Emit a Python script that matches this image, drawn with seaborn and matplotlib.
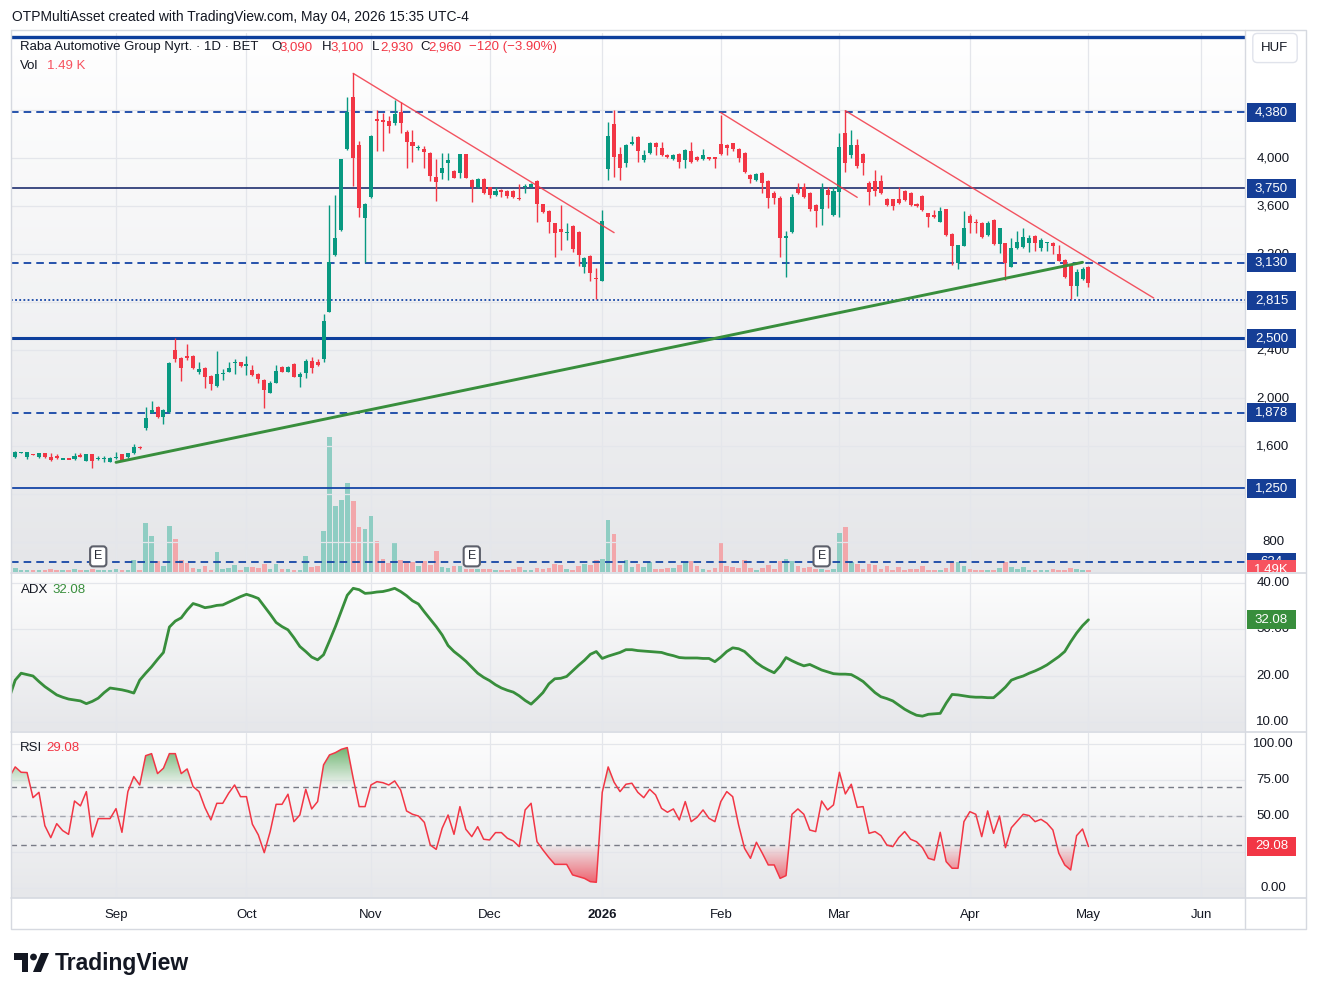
import numpy as np
import pandas as pd
import matplotlib
matplotlib.use("Agg")
import matplotlib.pyplot as plt
import seaborn as sns
from matplotlib.path import Path
from matplotlib.patches import Rectangle, Polygon, Circle
from matplotlib.lines import Line2D
from matplotlib.colors import to_rgb
from matplotlib.transforms import blended_transform_factory as blend

sns.set_theme(style="white")
plt.rcParams["font.family"] = ["Liberation Sans", "DejaVu Sans"]

# ------------------------------------------------------------------ data
first_session = "2025-08-05"
calendar_end = "2026-06-30"
bse_holidays = ["2025-08-20", "2025-10-23", "2025-10-24", "2025-12-24", "2025-12-25",
                "2025-12-26", "2025-12-31", "2026-01-01", "2026-01-02", "2026-04-03",
                "2026-04-06", "2026-05-01", "2026-05-25"]

open_ = [1541,
         1508, 1550, 1513, 1535, 1513, 1541, 1513, 1522, 1493, 1495,
         1494, 1522, 1480, 1536, 1500, 1497, 1472, 1500, 1533, 1513,
         1541, 1597, 1750, 1880, 1930, 1846, 1888, 2401, 2332, 2352,
         2352, 2222, 2249, 2185, 2102, 2205, 2222, 2297, 2299, 2276,
         2235, 2202, 2152, 2047, 2130, 2257, 2222, 2285, 2174, 2208,
         2310, 2305, 2327, 2721, 3193, 3401, 4075, 4511, 4108, 3503,
         3678, 4325, 4316, 4308, 4289, 4386, 4219, 4136, 4085, 4072,
         4039, 3839, 3878, 3956, 3892, 3878, 4031, 3817, 3761, 3825,
         3756, 3692, 3734, 3725, 3725, 3670, 3760, 3761, 3808, 3614,
         3559, 3456, 3409, 3376, 3434, 3387, 3096, 3184, 2998, 2979,
         3906, 4283, 4031, 3956, 4114, 4172, 3983, 4039, 4122, 4081,
         4025, 3989, 4033, 3983, 4061, 4011, 3989, 4008, 4008, 4117,
         4108, 4122, 4075, 4045, 3859, 3817, 3872, 3809, 3711, 3670,
         3340, 3387, 3742, 3756, 3711, 3609, 3573, 3734, 3525, 3720,
         4211, 4025, 4108, 4031, 3789, 3809, 3809, 3656, 3656, 3659,
         3725, 3711, 3617, 3684, 3539, 3525, 3470, 3576, 3367, 3123,
         3270, 3520, 3470, 3462, 3359, 3484, 3281, 3290, 3096, 3248,
         3262, 3295, 3351, 3248, 3297, 3290, 3201, 3151, 3109, 2934,
         2993, 3090]
high = [1545,
        1560, 1552, 1553, 1537, 1545, 1545, 1541, 1536, 1496, 1497,
        1541, 1541, 1540, 1540, 1516, 1516, 1508, 1550, 1537, 1545,
        1619, 1603, 1930, 1980, 1936, 1910, 2300, 2504, 2340, 2452,
        2360, 2300, 2260, 2195, 2393, 2240, 2299, 2330, 2305, 2353,
        2277, 2210, 2160, 2140, 2277, 2270, 2265, 2290, 2215, 2326,
        2345, 2330, 2699, 3609, 3692, 3995, 4511, 4705, 4140, 3625,
        4192, 4400, 4372, 4350, 4483, 4469, 4230, 4233, 4108, 4100,
        4050, 3992, 4039, 4039, 3900, 4035, 4035, 3825, 3831, 3830,
        3760, 3760, 3740, 3730, 3730, 3781, 3783, 3790, 3817, 3620,
        3565, 3460, 3609, 3456, 3440, 3395, 3179, 3190, 3082, 3567,
        4303, 4400, 4089, 4120, 4183, 4180, 4067, 4136, 4130, 4136,
        4035, 4035, 4040, 4075, 4136, 4020, 4072, 4012, 4012, 4358,
        4115, 4128, 4080, 4050, 3865, 3872, 3880, 3815, 3728, 3680,
        3392, 3700, 3789, 3789, 3720, 3615, 3789, 3760, 3761, 4211,
        4400, 4233, 4158, 4045, 3810, 3900, 3859, 3665, 3662, 3756,
        3733, 3720, 3622, 3690, 3545, 3567, 3595, 3580, 3372, 3280,
        3559, 3531, 3490, 3465, 3476, 3490, 3420, 3295, 3331, 3392,
        3420, 3360, 3360, 3331, 3304, 3298, 3276, 3160, 3115, 3073,
        3096, 3100]
low = [1505,
       1505, 1547, 1492, 1530, 1505, 1505, 1480, 1495, 1491, 1492,
       1490, 1512, 1476, 1416, 1489, 1466, 1468, 1495, 1476, 1505,
       1535, 1580, 1740, 1875, 1833, 1790, 1880, 2305, 2146, 2320,
       2240, 2205, 2088, 2066, 2095, 2150, 2215, 2205, 2260, 2195,
       2185, 2124, 1916, 2040, 2125, 2215, 2215, 2175, 2097, 2165,
       2210, 2270, 2305, 2715, 3185, 3395, 4070, 3767, 3512, 3131,
       3670, 4061, 4061, 4211, 4275, 4211, 3914, 3970, 4067, 3914,
       3811, 3645, 3822, 3817, 3830, 3831, 3830, 3636, 3750, 3700,
       3664, 3685, 3672, 3670, 3670, 3650, 3711, 3755, 3470, 3540,
       3373, 3179, 3234, 3317, 3220, 3104, 3040, 2979, 2826, 2975,
       3817, 3839, 3817, 3922, 4105, 3964, 3964, 4030, 4025, 4020,
       4000, 3985, 3914, 3914, 3960, 3975, 3980, 3985, 3914, 4025,
       4025, 4060, 3970, 3872, 3789, 3812, 3711, 3581, 3614, 3173,
       3007, 3380, 3700, 3670, 3560, 3423, 3442, 3581, 3515, 3512,
       3886, 4000, 3920, 3859, 3609, 3680, 3700, 3600, 3567, 3620,
       3640, 3600, 3595, 3559, 3428, 3500, 3465, 3355, 3109, 3073,
       3265, 3379, 3373, 3335, 3350, 3276, 3206, 2984, 3090, 3240,
       3255, 3221, 3229, 3229, 3229, 3201, 3140, 3005, 2824, 2851,
       2985, 2930]
close = [1508,
         1555, 1551, 1550, 1532, 1541, 1508, 1486, 1500, 1495, 1494,
         1522, 1516, 1536, 1478, 1503, 1500, 1505, 1513, 1480, 1541,
         1591, 1583, 1833, 1902, 1846, 1902, 2296, 2327, 2249, 2332,
         2249, 2241, 2174, 2119, 2202, 2210, 2249, 2300, 2269, 2279,
         2194, 2158, 2069, 2130, 2227, 2222, 2257, 2180, 2202, 2310,
         2249, 2277, 2643, 3131, 3331, 3992, 4386, 4003, 3587, 3614,
         4183, 4311, 4297, 4269, 4366, 4294, 4131, 4103, 4092, 4053,
         3853, 3803, 3920, 3983, 3836, 4031, 3836, 3756, 3825, 3706,
         3692, 3725, 3720, 3684, 3678, 3656, 3767, 3783, 3614, 3553,
         3470, 3373, 3381, 3381, 3240, 3193, 3165, 3040, 2990, 3476,
         4183, 4011, 3920, 4108, 4136, 4061, 4024, 4128, 4089, 4025,
         4006, 4025, 3970, 4067, 3970, 3983, 4025, 3989, 3989, 4033,
         4081, 4072, 4003, 3886, 3823, 3867, 3789, 3664, 3664, 3337,
         3345, 3678, 3711, 3678, 3573, 3559, 3739, 3692, 3725, 4089,
         3961, 4108, 3934, 3956, 3720, 3728, 3706, 3609, 3603, 3628,
         3651, 3609, 3600, 3567, 3512, 3506, 3559, 3359, 3270, 3276,
         3415, 3462, 3456, 3340, 3462, 3281, 3415, 3123, 3248, 3304,
         3345, 3337, 3295, 3318, 3300, 3270, 3145, 3012, 2934, 3054,
         3080, 2960]
volume_k = [1.5,
            2.6, 1.5, 1.5, 1.1, 1.5, 1.1, 2.1, 1.1, 1.1, 1.5,
            2.1, 1.5, 1.1, 2.1, 1.1, 1.5, 1.5, 2.1, 1.5, 1.5,
            7.9, 1.5, 31.7, 22.8, 6.8, 4.0, 29.6, 21.3, 7.5, 5.8,
            2.6, 2.1, 4.0, 1.5, 12.6, 2.1, 2.6, 4.7, 1.1, 3.2,
            3.2, 2.6, 5.3, 2.1, 5.3, 2.1, 2.1, 1.5, 1.5, 10.0,
            3.0, 3.6, 26.4, 86.7, 42.4, 46.2, 57.3, 45.8, 29.2, 27.7,
            36.2, 20.2, 8.5, 5.8, 19.0, 7.9, 6.2, 6.2, 3.6, 6.8,
            4.7, 13.8, 3.2, 2.6, 3.6, 3.6, 2.1, 2.1, 2.1, 2.1,
            2.1, 1.1, 1.5, 1.5, 2.1, 3.2, 1.5, 1.5, 2.6, 2.1,
            2.6, 5.1, 4.3, 2.1, 1.5, 4.0, 5.3, 4.7, 7.9, 8.5,
            33.4, 24.5, 4.7, 7.9, 3.2, 5.3, 3.2, 6.2, 2.1, 2.1,
            2.6, 2.6, 4.7, 6.2, 6.8, 4.0, 2.1, 1.5, 2.6, 19.0,
            4.0, 3.2, 2.6, 7.9, 2.6, 1.5, 2.6, 4.7, 2.1, 7.2,
            8.5, 6.8, 4.0, 2.6, 3.2, 2.1, 2.1, 1.5, 2.1, 25.3,
            29.2, 6.2, 5.1, 2.1, 5.1, 4.3, 2.1, 4.0, 1.1, 3.0,
            1.5, 2.1, 2.1, 3.6, 1.5, 1.1, 1.1, 2.6, 6.2, 6.2,
            4.0, 2.1, 1.5, 1.5, 1.5, 1.5, 2.6, 6.2, 3.2, 2.1,
            3.2, 1.5, 1.5, 1.1, 1.5, 2.1, 1.5, 1.5, 2.6, 2.1,
            1.5, 1.49]
adx = [15.2,
       19.0, 20.5, 20.2, 19.9, 18.7, 17.6, 16.7, 15.8, 15.3, 14.9,
       14.7, 14.5, 13.9, 14.4, 15.1, 16.3, 17.3, 17.1, 16.9, 16.6,
       16.2, 19.0, 20.5, 21.9, 23.5, 25.0, 30.5, 31.8, 32.5, 34.2,
       35.6, 35.2, 34.7, 34.9, 35.2, 35.3, 35.9, 36.5, 37.1, 37.6,
       37.2, 36.7, 35.0, 33.3, 31.5, 30.6, 29.9, 28.2, 26.3, 25.2,
       24.0, 23.4, 24.5, 27.5, 30.6, 34.0, 37.4, 38.9, 38.6, 37.8,
       37.9, 38.1, 38.2, 38.5, 38.9, 38.2, 37.3, 36.2, 35.5, 33.8,
       32.2, 30.6, 28.8, 26.5, 25.2, 24.2, 23.1, 21.8, 20.5, 19.6,
       18.9, 18.0, 17.3, 16.8, 16.4, 15.6, 14.6, 13.8, 15.0, 16.3,
       18.2, 19.3, 19.4, 19.8, 21.0, 22.2, 23.3, 24.6, 25.2, 23.7,
       24.2, 24.6, 25.0, 25.6, 25.6, 25.4, 25.3, 25.2, 25.1, 25.0,
       24.6, 24.3, 23.9, 23.8, 23.8, 23.8, 23.7, 23.7, 23.0, 24.0,
       25.2, 26.0, 25.8, 25.2, 24.0, 22.8, 21.9, 21.2, 20.6, 22.0,
       23.9, 23.2, 22.6, 22.1, 22.4, 21.8, 21.2, 20.8, 20.4, 20.3,
       20.3, 20.2, 19.5, 18.7, 17.5, 16.3, 15.4, 15.0, 14.5, 13.6,
       12.7, 12.0, 11.4, 11.2, 11.6, 11.7, 11.8, 14.0, 15.9, 15.8,
       15.6, 15.4, 15.3, 15.3, 15.2, 15.2, 16.3, 17.5, 19.0, 19.5,
       19.9, 20.5, 21.0, 21.6, 22.3, 23.2, 24.1, 25.2, 27.3, 29.2,
       30.8, 32.08]
rsi = [77.0,
       84.2, 80.5, 80.3, 62.9, 66.6, 43.5, 35.2, 44.9, 40.1, 37.5,
       60.6, 57.2, 67.1, 35.7, 48.4, 48.4, 48.4, 55.3, 38.9, 67.1,
       77.5, 71.7, 92.0, 93.4, 79.6, 83.3, 93.4, 93.4, 79.6, 82.8,
       70.6, 67.1, 56.0, 47.5, 59.0, 59.0, 66.0, 71.7, 63.6, 63.6,
       44.5, 37.1, 24.8, 39.4, 58.3, 58.3, 65.3, 46.3, 50.9, 68.7,
       55.1, 60.2, 85.6, 92.5, 94.1, 96.4, 97.6, 76.3, 56.7, 56.7,
       71.7, 74.0, 73.3, 71.7, 74.5, 68.2, 53.7, 51.4, 50.2, 45.8,
       30.1, 27.1, 41.7, 50.9, 37.5, 56.7, 41.0, 35.9, 42.8, 34.1,
       33.6, 38.7, 38.7, 34.8, 32.9, 29.0, 54.4, 59.0, 32.4, 26.7,
       21.4, 16.7, 16.7, 16.7, 9.4, 8.2, 7.0, 4.7, 4.3, 66.6,
       84.2, 73.6, 67.1, 72.2, 72.9, 66.6, 62.9, 68.7, 64.8, 55.5,
       52.8, 55.1, 47.5, 60.2, 46.3, 49.3, 54.4, 48.6, 46.3, 60.2,
       67.1, 63.6, 44.0, 27.8, 20.9, 32.0, 24.4, 16.3, 16.3, 7.0,
       8.9, 51.4, 55.1, 51.4, 40.5, 39.4, 60.6, 54.4, 57.9, 80.5,
       65.5, 72.2, 56.2, 56.7, 38.2, 39.4, 36.6, 30.1, 29.0, 35.2,
       39.4, 34.1, 32.4, 28.3, 20.9, 19.7, 38.9, 18.6, 14.0, 14.0,
       46.3, 53.2, 51.4, 35.9, 53.7, 38.2, 50.2, 28.3, 42.1, 46.8,
       51.4, 50.5, 46.3, 47.9, 45.2, 40.5, 24.4, 16.3, 12.8, 36.6,
       41.2, 29.08]

level_top = 5007
levels_dashed = [4380, 3130, 1878, 634]
level_resistance = 3750
level_support = 2500
level_dotted = 2815
level_low = 1250
label_levels = [4380, 3750, 3130, 2815, 2500, 1878, 1250, 634]
price_ticks = [800, 1200, 1600, 2000, 2400, 2800, 3200, 3600, 4000, 4400]
adx_ticks = [10, 20, 30, 40]
rsi_ticks = [0, 25, 50, 75, 100]
rsi_upper, rsi_mid, rsi_lower = 70, 50, 30

red_trendlines = [(("2025-10-29", 4705), ("2026-01-07", 3379)),
                  (("2026-02-02", 4378), ("2026-03-05", 3673)),
                  (("2026-03-03", 4394), ("2026-05-19", 2835))]
green_trendline = (("2025-09-01", 1467), ("2026-04-30", 3132))
earnings_dates = ["2025-08-27", "2025-11-26", "2026-02-25"]

title_text = "Raba Automotive Group Nyrt. · 1D · BET"
header_text = "OTPMultiAsset created with TradingView.com, May 04, 2026 15:35 UTC-4"

# ------------------------------------------------------------------ prep
sessions = pd.bdate_range(first_session, calendar_end).difference(pd.DatetimeIndex(bse_holidays))
n = len(close)
x = np.arange(n)
o, h, l, c = (np.asarray(a, float) for a in (open_, high, low, close))
vol = np.asarray(volume_k, float)
adx_a = np.asarray(adx, float)
rsi_a = np.asarray(rsi, float)


def idx(d):
    return sessions.get_loc(pd.Timestamp(d))


firsts = pd.Series(np.arange(len(sessions)), index=sessions)
firsts = firsts.groupby([sessions.year, sessions.month]).first()
month_pos, month_lab = [], []
for (yy, mm), pos in firsts.items():
    if (yy, mm) <= (2025, 8):
        continue
    month_pos.append(pos)
    month_lab.append(str(yy) if mm == 1 else pd.Timestamp(yy, mm, 1).strftime("%b"))

UP, DOWN = "#089981", "#f23645"
BLUE = "#1546a6"
TXT = "#131722"
GRID = "#e4e6eb"
SEP = "#d6d9e0"
FS = 9.5

W, H, DPI = 1317, 997, 100
fig = plt.figure(figsize=(W / DPI, H / DPI), dpi=DPI)
fig.patch.set_facecolor("white")


def px_axes(x0, y0, x1, y1):
    return fig.add_axes([x0 / W, 1 - y1 / H, (x1 - x0) / W, (y1 - y0) / H])


def ftext(xp, yp, s, **kw):
    kw.setdefault("fontsize", FS)
    kw.setdefault("va", "center")
    kw.setdefault("color", TXT)
    return fig.text(xp / W, 1 - yp / H, s, **kw)


def gradient_bg(ax, top="#ffffff", bottom="#e5e6e9"):
    t = np.linspace(0, 1, 256)[:, None, None]
    img = np.array(to_rgb(top))[None, None, :] * (1 - t) + np.array(to_rgb(bottom))[None, None, :] * t
    ax.imshow(img, extent=(0, 1, 0, 1), transform=ax.transAxes, aspect="auto",
              zorder=-10, interpolation="bilinear")


def clean(ax):
    for s in ax.spines.values():
        s.set_visible(False)


x_view = (0.29, 208.4)
price_view = (554, 5041)
adx_view = (7.98, 42.0)
rsi_view = (-6.6, 107.7)

# ------------------------------------------------------------------ main pane
ax_vol = px_axes(11, 33, 1245, 572)
gradient_bg(ax_vol)
vol_cols = np.where(c >= o, "#8fcdc3", "#f2a7ab")
ax_vol.bar(x, vol, width=0.78, color=vol_cols, linewidth=0, zorder=2)
ax_vol.set_ylim(0, 346)
ax_vol.set_xlim(*x_view)
ax_vol.set_yticks([])
ax_vol.set_xticks(month_pos)
ax_vol.tick_params(axis="x", labelbottom=False, length=0)
ax_vol.grid(axis="x", color=GRID, lw=0.9)
clean(ax_vol)

ax_p = ax_vol.twinx()
ax_p.patch.set_visible(False)
ax_p.set_ylim(*price_view)
ax_p.set_xlim(*x_view)
ax_p.set_yticks(price_ticks)
ax_p.tick_params(axis="y", labelright=False, right=False, length=0)
ax_p.grid(axis="y", color=GRID, lw=0.9)
clean(ax_p)

dash = (0, (4.2, 2.8))
ax_p.axhline(level_top, color="#0d3f9c", lw=2.4, zorder=3)
for lv in levels_dashed:
    ax_p.axhline(lv, color=BLUE, lw=1.3, ls=dash, zorder=3)
ax_p.axhline(level_resistance, color="#1e2f6e", lw=1.2, zorder=3)
ax_p.axhline(level_support, color="#0d3f9c", lw=2.2, zorder=3)
ax_p.axhline(level_dotted, color=BLUE, lw=1.3, ls=(0, (1.0, 1.3)), zorder=3)
ax_p.axhline(level_low, color=BLUE, lw=1.3, zorder=3)

for (d0, p0), (d1, p1) in red_trendlines:
    ax_p.plot([idx(d0), idx(d1)], [p0, p1], color="#f23645", lw=1.0, alpha=0.85, zorder=6)
(g0, gp0), (g1, gp1) = green_trendline
ax_p.plot([idx(g0), idx(g1)], [gp0, gp1], color="#388e3c", lw=2.1, zorder=6, solid_capstyle="round")

col = np.where(c >= o, UP, DOWN)
ax_p.vlines(x, l, h, colors=col, lw=1.0, zorder=4)
lo_b, hi_b = np.minimum(o, c), np.maximum(o, c)
hgt = np.maximum(hi_b - lo_b, 10)
mid = (lo_b + hi_b) / 2
ax_p.bar(x, hgt, bottom=mid - hgt / 2, width=0.68, color=col, linewidth=0, zorder=5)

e_tr = blend(ax_p.transData, ax_p.transAxes)
for d in earnings_dates:
    ax_p.text(idx(d), 0.029, "E", transform=e_tr, ha="center", va="center", fontsize=9,
              color="#2a2e39", zorder=8,
              bbox=dict(boxstyle="round,pad=0.32,rounding_size=0.25", fc="white", ec="#5d606b", lw=1.5))

# ------------------------------------------------------------------ ADX pane
ax_a = px_axes(11, 574, 1245, 731)
gradient_bg(ax_a, "#fdfdfd", "#e6e7ea")
sns.lineplot(x=x, y=adx_a, ax=ax_a, color="#388e3c", lw=2.0, zorder=4)
ax_a.set_xlim(*x_view)
ax_a.set_ylim(*adx_view)
ax_a.set_yticks(adx_ticks)
ax_a.set_xticks(month_pos)
ax_a.tick_params(labelbottom=False, labelleft=False, length=0)
ax_a.grid(color=GRID, lw=0.9)
ax_a.set_xlabel("")
ax_a.set_ylabel("")
clean(ax_a)

# ------------------------------------------------------------------ RSI pane
ax_r = px_axes(11, 733, 1245, 898)
gradient_bg(ax_r, "#fdfdfd", "#e6e7ea")


def gradient_fill(ax, xs, ys, lo, hi, color, top_strong):
    if top_strong:
        coll = ax.fill_between(xs, ys, lo, where=ys >= lo, interpolate=True, fc="none", ec="none")
    else:
        coll = ax.fill_between(xs, ys, hi, where=ys <= hi, interpolate=True, fc="none", ec="none")
    paths = [p for p in coll.get_paths() if len(p.vertices)]
    if not paths:
        return
    rgba = np.zeros((256, 1, 4))
    rgba[:, :, :3] = to_rgb(color)
    rgba[:, 0, 3] = np.linspace(0.0, 0.85, 256) if top_strong else np.linspace(0.85, 0.0, 256)
    im = ax.imshow(rgba, extent=(xs[0], xs[-1], lo, hi), origin="lower", aspect="auto",
                   zorder=2, interpolation="bilinear")
    im.set_clip_path(Path.make_compound_path(*paths), ax.transData)


gradient_fill(ax_r, x, rsi_a, rsi_upper, 100, "#43a047", True)
gradient_fill(ax_r, x, rsi_a, 0, rsi_lower, "#f23645", False)
for lv, cc in ((rsi_upper, "#787b86"), (rsi_mid, "#a3a6af"), (rsi_lower, "#787b86")):
    ax_r.axhline(lv, color=cc, lw=1.0, ls=(0, (4, 3)), zorder=3)
sns.lineplot(x=x, y=rsi_a, ax=ax_r, color="#f23645", lw=1.1, zorder=5)
ax_r.set_xlim(*x_view)
ax_r.set_ylim(*rsi_view)
ax_r.set_yticks(rsi_ticks)
ax_r.set_xticks(month_pos)
ax_r.set_xticklabels(month_lab)
ax_r.tick_params(axis="x", length=0, pad=8, labelsize=FS, labelcolor=TXT)
ax_r.tick_params(axis="y", labelleft=False, length=0)
for t in ax_r.get_xticklabels():
    if t.get_text().isdigit():
        t.set_fontweight("bold")
ax_r.grid(color=GRID, lw=0.9)
ax_r.set_xlabel("")
ax_r.set_ylabel("")
clean(ax_r)

# ------------------------------------------------------------------ price scales
ax_ps = px_axes(1245, 33, 1306, 572)
ax_as = px_axes(1245, 574, 1306, 731)
ax_rs = px_axes(1245, 733, 1306, 898)
for a_s, lim in ((ax_ps, price_view), (ax_as, adx_view), (ax_rs, rsi_view)):
    a_s.set_ylim(*lim)
    a_s.set_xlim(0, 1)
    a_s.axis("off")


def disp_y(ax, v):
    return ax.transData.transform((0, v))[1]


# boxes drawn on each scale: (scale axes, source axes, value, text, colour)
boxes = [(ax_ps, ax_p, lv, f"{lv:,}", "#153e96") for lv in label_levels]
boxes.append((ax_ps, ax_vol, vol[-1], f"{vol[-1]:.2f}K", "#f7525f"))
boxes.append((ax_as, ax_a, adx_a[-1], f"{adx_a[-1]:.2f}", "#388e3c"))
boxes.append((ax_rs, ax_r, rsi_a[-1], f"{rsi_a[-1]:.2f}", "#f23645"))


def hidden_under_box(a_s, src, v):
    yd = disp_y(src, v)
    return any(b[0] is a_s and abs(disp_y(b[1], b[2]) - yd) < 7.5 for b in boxes)


for a_s, src, ticks, fmt in ((ax_ps, ax_p, price_ticks, "{:,}"),
                             (ax_as, ax_a, adx_ticks, "{:.2f}"),
                             (ax_rs, ax_r, rsi_ticks, "{:.2f}")):
    for t in ticks:
        if hidden_under_box(a_s, src, t):
            continue
        a_s.text(0.46, t, fmt.format(t), transform=blend(a_s.transAxes, a_s.transData),
                 ha="center", va="center", fontsize=FS, color=TXT, clip_on=True, zorder=3)


def scale_box(a_s, src_ax, value, text, fc, x0=0.033, x1=0.836, half_px=9.5, z=5):
    yf = a_s.transAxes.inverted().transform((0, disp_y(src_ax, value)))[1]
    half = half_px / a_s.bbox.height
    a_s.add_patch(Rectangle((x0, yf - half), x1 - x0, 2 * half, transform=a_s.transAxes,
                            fc=fc, ec="none", zorder=z, clip_on=True))
    a_s.text((x0 + x1) / 2, yf, text, transform=a_s.transAxes, color="white", fontsize=FS,
             ha="center", va="center", zorder=z + 1, clip_on=True)


for k, (a_s, src, v, txt, fc) in enumerate(boxes):
    scale_box(a_s, src, v, txt, fc, z=5 + 2 * k)

# ------------------------------------------------------------------ frame & separators
def fline(xs, ys, **kw):
    fig.add_artist(Line2D([v / W for v in xs], [1 - v / H for v in ys], transform=fig.transFigure, **kw))


fline([11, 1306, 1306, 11, 11], [30, 30, 929, 929, 30], color=SEP, lw=1)
fline([1245, 1245], [30, 929], color=SEP, lw=1)
for yy in (573, 732, 898):
    fline([11, 1306], [yy, yy], color=SEP, lw=1.2)

# ------------------------------------------------------------------ texts
ftext(12, 17, header_text, fontsize=10)
RED = "#f23645"
ftext(20, 47, title_text)
pieces = [("O", open_[-1]), ("H", high[-1]), ("L", low[-1]), ("C", close[-1])]
xs_letters = [271.5, 322, 372, 420]
for (letter, val), xp in zip(pieces, xs_letters):
    ftext(xp, 47, letter)
    ftext(xp + 8, 47, f"{val:,}", color=RED)
chg = close[-1] - close[-2]
pct = chg / close[-2] * 100
ftext(469, 47, f"{chg:+,} ({pct:+.2f}%)".replace("-", "\u2212"), color=RED)
ftext(20, 66, "Vol")
ftext(47, 66, f"{vol[-1]:.2f} K", color="#f7525f")
ftext(21, 590, "ADX")
ftext(52, 590, f"{adx_a[-1]:.2f}", color="#388e3c")
ftext(20, 748, "RSI")
ftext(46, 748, f"{rsi_a[-1]:.2f}", color=RED)

ftext(1275, 48, "HUF", ha="center",
      bbox=dict(boxstyle="round,pad=0.65,rounding_size=0.35", fc="white", ec="#e0e3eb", lw=1))

# TradingView logo
ax_logo = px_axes(14, 951, 50, 975)
ax_logo.set_xlim(0, 36)
ax_logo.set_ylim(24, 0)
ax_logo.axis("off")
ax_logo.add_patch(Rectangle((0, 2), 14, 6.5, fc="#131722", ec="none"))
ax_logo.add_patch(Rectangle((7.5, 2), 6.5, 19, fc="#131722", ec="none"))
ax_logo.add_patch(Circle((19.5, 6), 3.4, fc="#131722", ec="none"))
ax_logo.add_patch(Polygon([(27, 2), (35, 2), (27, 21), (19, 21)], closed=True, fc="#131722", ec="none"))
ftext(55, 963, "TradingView", fontsize=16.5, fontweight="bold")

fig.savefig("out.png", dpi=DPI, facecolor="white")
